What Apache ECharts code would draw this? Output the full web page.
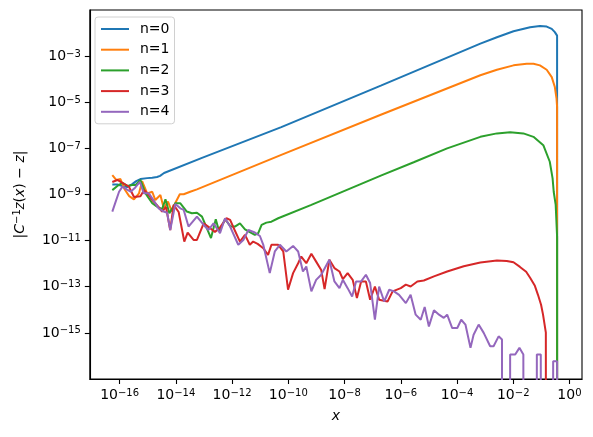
<!DOCTYPE html>
<html>
<head>
<meta charset="utf-8">
<script src="https://cdn.jsdelivr.net/npm/echarts@6/dist/echarts.min.js"></script>
<style>
  html, body { margin: 0; padding: 0; background: #fff; }
  #chart { width: 593px; height: 437px; }
</style>
</head>
<body>
<div id="chart"></div>
<script>
// every point is [log10 x, log10 y]
// ZERO stands for an exact 0: matplotlib clips it off the bottom of the log axis
const ZERO = -300

const seriesNames = ['n=0', 'n=1', 'n=2', 'n=3', 'n=4']
const colors = ['#1f77b4', '#ff7f0e', '#2ca02c', '#d62728', '#9467bd']

const n0 = [
  [-16.26, -8.57], [-16.08, -8.57], [-15.90, -8.63], [-15.73, -8.68], [-15.55, -8.55],
  [-15.41, -8.42], [-15.26, -8.33], [-15.02, -8.29], [-14.84, -8.27], [-14.67, -8.24],
  [-14.56, -8.19], [-14.42, -8.07], [-13.07, -7.41], [-10.25, -6.08], [-6.71, -4.28],
  [-3.17, -2.46], [-2.58, -2.18], [-1.99, -1.92], [-1.40, -1.75], [-1.05, -1.69],
  [-0.81, -1.72], [-0.63, -1.82], [-0.52, -1.96], [-0.44, -2.11], [-0.43, ZERO]
]

const n1 = [
  [-16.26, -8.16], [-16.12, -8.37], [-15.97, -8.33], [-15.83, -8.76], [-15.66, -9.07],
  [-15.49, -9.21], [-15.31, -8.95], [-15.20, -8.42], [-15.02, -8.95], [-14.84, -8.88],
  [-14.73, -9.24], [-14.55, -9.02], [-14.43, -9.60], [-14.28, -9.31], [-14.14, -9.74],
  [-14.02, -9.37], [-13.86, -8.99], [-13.72, -8.99], [-13.49, -8.88], [-13.25, -8.78],
  [-10.25, -7.28], [-6.71, -5.54], [-3.17, -3.83], [-2.58, -3.59], [-1.99, -3.40],
  [-1.52, -3.33], [-1.28, -3.33], [-1.05, -3.40], [-0.81, -3.59], [-0.63, -3.91],
  [-0.52, -4.34], [-0.46, -4.84], [-0.44, -5.20], [-0.43, ZERO]
]

const n2 = [
  [-16.26, -8.81], [-16.08, -8.63], [-15.90, -8.50], [-15.73, -8.63], [-15.55, -8.59],
  [-15.43, -8.59], [-15.26, -8.37], [-15.08, -8.95], [-14.84, -9.38], [-14.67, -9.53],
  [-14.49, -9.64], [-14.37, -9.21], [-14.23, -9.81], [-14.02, -9.38], [-13.84, -9.38],
  [-13.61, -9.74], [-13.43, -9.81], [-13.25, -9.79], [-13.07, -9.96], [-12.90, -10.46],
  [-12.75, -10.89], [-12.58, -10.07], [-12.46, -10.61], [-12.25, -10.07], [-12.05, -10.39],
  [-11.90, -10.39], [-11.72, -10.25], [-11.54, -10.51], [-11.40, -10.61], [-11.19, -10.75],
  [-11.07, -10.68], [-10.95, -10.32], [-10.78, -10.22], [-10.60, -10.18], [-10.36, -10.03],
  [-9.18, -9.45], [-6.71, -8.18], [-5.54, -7.60], [-4.35, -7.00], [-3.17, -6.50],
  [-2.58, -6.35], [-2.11, -6.30], [-1.64, -6.35], [-1.28, -6.50], [-0.93, -6.86],
  [-0.70, -7.58], [-0.60, -8.30], [-0.56, -8.88], [-0.49, -9.45], [-0.44, -10.83],
  [-0.43, ZERO]
]

const n3 = [
  [-16.26, -8.46], [-16.08, -8.37], [-15.90, -8.50], [-15.67, -8.66], [-15.49, -9.11],
  [-15.26, -9.08], [-15.13, -8.81], [-14.96, -9.02], [-14.84, -9.24], [-14.67, -9.46],
  [-14.49, -9.74], [-14.35, -9.54], [-14.20, -10.54], [-14.08, -9.45], [-13.90, -9.76],
  [-13.70, -11.04], [-13.58, -10.65], [-13.37, -10.97], [-13.25, -10.97], [-13.01, -10.25],
  [-12.78, -10.46], [-12.61, -10.62], [-12.44, -10.45], [-12.20, -10.03], [-12.07, -10.10],
  [-11.91, -10.54], [-11.72, -11.04], [-11.54, -10.75], [-11.37, -11.18], [-11.25, -11.04],
  [-11.09, -11.14], [-10.89, -11.33], [-10.72, -11.62], [-10.60, -11.18], [-10.36, -11.18],
  [-10.18, -11.47], [-10.01, -13.13], [-9.83, -12.41], [-9.65, -11.98], [-9.54, -11.69],
  [-9.36, -11.98], [-9.18, -11.57], [-9.01, -11.91], [-8.83, -12.27], [-8.71, -13.10],
  [-8.54, -11.83], [-8.36, -12.19], [-8.18, -12.34], [-8.06, -12.67], [-7.89, -12.41],
  [-7.71, -12.70], [-7.56, -13.49], [-7.41, -12.77], [-7.24, -12.77], [-7.09, -13.56],
  [-6.92, -12.99], [-6.77, -13.56], [-6.47, -13.64], [-6.29, -13.20], [-6.00, -13.06],
  [-5.82, -12.91], [-5.65, -12.99], [-5.41, -12.77], [-5.18, -12.73], [-4.82, -12.55],
  [-4.35, -12.34], [-3.76, -12.11], [-3.17, -11.95], [-2.58, -11.86], [-2.23, -11.88],
  [-1.99, -11.94], [-1.76, -12.14], [-1.54, -12.35], [-1.40, -12.61], [-1.23, -12.96],
  [-1.12, -13.35], [-1.01, -13.78], [-0.94, -14.21], [-0.84, -14.99], [-0.70, ZERO],
  [-0.43, ZERO]
]

const n4 = [
  [-16.26, -9.74], [-16.14, -9.31], [-16.02, -8.88], [-15.90, -8.66], [-15.75, -8.78],
  [-15.61, -8.88], [-15.47, -8.73], [-15.28, -8.45], [-15.14, -8.95], [-14.96, -8.95],
  [-14.84, -9.17], [-14.61, -9.60], [-14.43, -9.74], [-14.31, -9.79], [-14.20, -10.54],
  [-14.02, -9.41], [-13.84, -9.60], [-13.72, -9.67], [-13.55, -10.39], [-13.25, -9.96],
  [-13.01, -10.32], [-12.84, -10.54], [-12.66, -10.25], [-12.43, -10.68], [-12.25, -10.03],
  [-12.07, -10.39], [-11.78, -11.18], [-11.60, -10.97], [-11.42, -10.54], [-11.19, -10.65],
  [-11.01, -10.80], [-10.89, -11.18], [-10.66, -12.41], [-10.48, -11.47], [-10.30, -11.18],
  [-10.07, -11.47], [-9.83, -11.23], [-9.65, -11.47], [-9.48, -12.34], [-9.36, -12.12],
  [-9.18, -13.20], [-9.01, -12.70], [-8.83, -12.48], [-8.54, -11.83], [-8.36, -12.77],
  [-8.18, -13.06], [-8.06, -12.70], [-7.89, -13.06], [-7.73, -13.42], [-7.59, -12.77],
  [-7.41, -12.77], [-7.24, -12.48], [-7.09, -12.84], [-6.92, -14.43], [-6.77, -12.99],
  [-6.59, -13.64], [-6.41, -13.13], [-6.24, -13.20], [-6.06, -13.35], [-5.82, -13.71],
  [-5.65, -13.35], [-5.47, -14.21], [-5.29, -14.43], [-5.15, -13.88], [-5.00, -14.72],
  [-4.82, -14.02], [-4.64, -14.21], [-4.47, -14.35], [-4.35, -14.21], [-4.17, -14.79],
  [-3.99, -14.79], [-3.85, -14.43], [-3.70, -14.64], [-3.52, -15.65], [-3.41, -15.08],
  [-3.23, -14.64], [-3.05, -15.00], [-2.82, -15.58], [-2.70, -15.58], [-2.52, -15.15],
  [-2.40, -15.29], [-2.26, ZERO], [-2.11, -15.94], [-1.93, -15.94], [-1.78, -15.65],
  [-1.64, -15.94], [-1.49, ZERO], [-1.33, ZERO], [-1.16, -15.94], [-1.02, -15.94],
  [-0.87, ZERO], [-0.73, ZERO], [-0.58, -16.23], [-0.44, -16.23], [-0.43, ZERO]
]

const xTickExps = [-16, -14, -12, -10, -8, -6, -4, -2, 0]
const yTickExps = [-15, -13, -11, -9, -7, -5, -3]

const allSeries = [n0, n1, n2, n3, n4]

const font = 'DejaVu Sans'

const tickLabel = v => {
  const e = Math.round(Math.log10(v))
  return '{b|10}{s|' + String(e).replace('-', '\u2212') + '}'
}

const labelRich = {
  b: {fontSize: 14, fontFamily: font, color: '#000', lineHeight: 14, padding: [6, 0, 0, 0], verticalAlign: 'bottom'},
  s: {fontSize: 10, fontFamily: font, color: '#000', lineHeight: 10, verticalAlign: 'top'}
}

const chart = echarts.init(document.getElementById('chart'), null, {renderer: 'canvas'})

const option = {
  animation: false,
  backgroundColor: '#fff',
  grid: {
    left: 87, right: 11, top: 10, bottom: 58,
    show: true, borderColor: '#000', borderWidth: 1.1, backgroundColor: 'transparent'
  },
  legend: {
    orient: 'vertical',
    left: 95, top: 17,
    itemWidth: 28, itemHeight: 14, itemGap: 6.7,
    padding: [5, 5, 5, 5],
    backgroundColor: 'rgba(255,255,255,0.8)',
    borderColor: '#d0d0d0', borderWidth: 1, borderRadius: 3,
    itemStyle: {opacity: 0, borderWidth: 0},
    lineStyle: {width: 2},
    textStyle: {fontSize: 14, fontFamily: font, color: '#000', padding: [0, 0, 0, 6]},
    data: seriesNames
  },
  xAxis: {
    type: 'log', logBase: 10,
    min: Math.pow(10, -17.06), max: Math.pow(10, 0.446),
    name: 'x', nameLocation: 'middle', nameGap: 30,
    nameTextStyle: {fontSize: 14, fontFamily: font, fontStyle: 'italic', color: '#000'},
    axisLine: {show: true, lineStyle: {color: '#000', width: 1.1}},
    axisTick: {show: true, inside: false, length: 5, lineStyle: {color: '#000', width: 1.1},
      customValues: xTickExps.map(e => Math.pow(10, e))},
    axisLabel: {margin: 9, formatter: tickLabel, rich: labelRich,
      customValues: xTickExps.map(e => Math.pow(10, e))},
    minorTick: {show: false},
    splitLine: {show: false}
  },
  yAxis: {
    type: 'log', logBase: 10,
    min: Math.pow(10, -17), max: Math.pow(10, -1),
    name: '{n||}{i|C}{sup|\u22121}{sub|Z}{n|(}{i|x}{n|) \u2212 }{i|z}{n||}',
    nameLocation: 'middle', nameGap: 58, nameRotate: 90,
    nameTextStyle: {
      color: '#000',
      rich: {
        n: {fontSize: 14, fontFamily: font, color: '#000', lineHeight: 14, padding: [5, 0, 4, 0]},
        i: {fontSize: 14, fontFamily: font, fontStyle: 'italic', color: '#000', lineHeight: 14, padding: [5, 0, 4, 0]},
        sup: {fontSize: 10, fontFamily: font, color: '#000', lineHeight: 10, verticalAlign: 'top'},
        sub: {fontSize: 10, fontFamily: font, fontStyle: 'italic', color: '#000', lineHeight: 10, verticalAlign: 'bottom'}
      }
    },
    axisLine: {show: true, lineStyle: {color: '#000', width: 1.1}},
    axisTick: {show: true, inside: false, length: 5, lineStyle: {color: '#000', width: 1.1},
      customValues: yTickExps.map(e => Math.pow(10, e))},
    axisLabel: {margin: 9, formatter: tickLabel, rich: labelRich,
      customValues: yTickExps.map(e => Math.pow(10, e))},
    minorTick: {show: false},
    splitLine: {show: false}
  },
  series: allSeries.map((pts, i) => ({
    name: seriesNames[i],
    type: 'line',
    symbol: 'none',
    clip: true,
    color: colors[i],
    lineStyle: {width: 2, color: colors[i]},
    data: pts.map(p => [Math.pow(10, p[0]), Math.pow(10, p[1])])
  }))
}

chart.setOption(option)
</script>
</body>
</html>
